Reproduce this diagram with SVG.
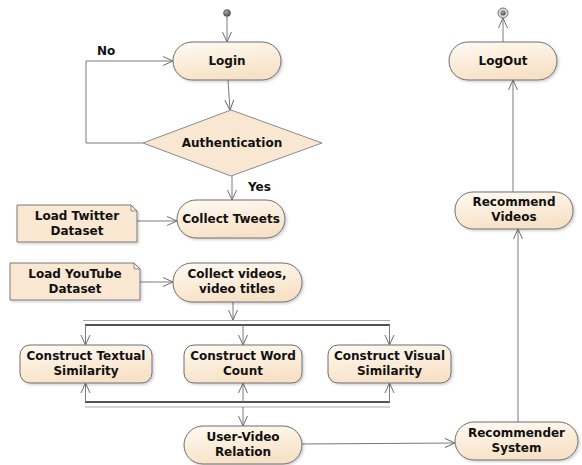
<svg xmlns="http://www.w3.org/2000/svg" width="582" height="465" viewBox="0 0 582 465">
<defs>
<linearGradient id="g" x1="0" y1="0" x2="0.3" y2="1">
<stop offset="0" stop-color="#fffaf3"/>
<stop offset="1" stop-color="#f8e2c7"/>
</linearGradient>
<radialGradient id="sg" cx="0.4" cy="0.35" r="0.7">
<stop offset="0" stop-color="#aaaaaa"/>
<stop offset="1" stop-color="#444444"/>
</radialGradient>
<filter id="sh" x="-10%" y="-10%" width="125%" height="135%">
<feDropShadow dx="1.5" dy="1.5" stdDeviation="1" flood-color="#000" flood-opacity="0.18"/>
</filter>
<marker id="a" markerUnits="userSpaceOnUse" markerWidth="12" markerHeight="12" viewBox="0 0 12 12" refX="11" refY="6" orient="auto">
<path d="M1,1.5 L11,6 L1,10.5" fill="none" stroke="#707070" stroke-width="1"/>
</marker>
</defs>
<style>
.act{fill:url(#g);stroke:#6e6e6e;stroke-width:1;filter:url(#sh)}
.note{fill:#fbe8d3;stroke:#7a7a7a;stroke-width:1;filter:url(#sh)}
.dec{fill:#fae7d2;stroke:#8a8a8a;stroke-width:1}
.t{font-family:"DejaVu Sans","Liberation Sans",sans-serif;font-weight:bold;font-size:12px;fill:#111;text-anchor:middle}
.lbl{font-family:"DejaVu Sans","Liberation Sans",sans-serif;font-weight:bold;font-size:12px;fill:#111}
.c{fill:none;stroke:#7a7a7a;stroke-width:1}
.ca{fill:none;stroke:#7a7a7a;stroke-width:1;marker-end:url(#a)}
.bar{fill:none;stroke:#1a1a1a;stroke-width:1.3}
.bar2{fill:none;stroke:#a8a8a8;stroke-width:1.2}
</style>

<g id="connectors">
<line class="ca" x1="227" y1="17" x2="227" y2="42"/>
<line class="ca" x1="228" y1="80" x2="230" y2="110"/>
<polyline class="ca" points="143,143 86,143 86,61 173,61"/>
<line class="ca" x1="232" y1="176" x2="232" y2="200"/>
<line class="ca" x1="137" y1="221" x2="177" y2="221"/>
<line class="ca" x1="140" y1="282" x2="173" y2="282"/>
<line class="ca" x1="233" y1="302" x2="233" y2="320"/>
<line class="bar2" x1="83" y1="320.5" x2="390" y2="320.5"/>
<line class="bar" x1="85" y1="325" x2="390" y2="325"/>
<line class="ca" x1="85.5" y1="325" x2="85.5" y2="345"/>
<line class="ca" x1="243" y1="325" x2="243" y2="345"/>
<line class="ca" x1="389.5" y1="325" x2="389.5" y2="345"/>
<line class="bar" x1="85" y1="402" x2="390" y2="402"/>
<line class="bar2" x1="85" y1="407" x2="390" y2="407"/>
<line class="ca" x1="85.5" y1="402" x2="85.5" y2="383"/>
<line class="ca" x1="243" y1="402" x2="243" y2="383"/>
<line class="ca" x1="389.5" y1="402" x2="389.5" y2="383"/>
<line class="ca" x1="243" y1="407" x2="243" y2="426"/>
<line class="ca" x1="302" y1="444" x2="455" y2="443"/>
<line class="ca" x1="518" y1="422" x2="518" y2="229"/>
<line class="ca" x1="513" y1="192" x2="513" y2="80"/>
<line class="ca" x1="503" y1="42" x2="503" y2="18"/>
<text class="lbl" x="97" y="55">No</text>
<text class="lbl" x="248" y="191">Yes</text>
</g>

<g id="start">
<circle cx="227" cy="13" r="3.5" fill="url(#sg)" stroke="#555" stroke-width="0.6"/>
</g>

<g id="login">
<rect class="act" x="173" y="42" width="108" height="38" rx="19"/>
<text class="t" x="227" y="65">Login</text>
</g>

<g id="authentication">
<polygon class="dec" points="231,110 322,143 231,176 143,143"/>
<text class="t" x="232" y="147">Authentication</text>
</g>

<g id="collect-tweets">
<rect class="act" x="177" y="200" width="108" height="38" rx="19"/>
<text class="t" x="231" y="223">Collect Tweets</text>
</g>

<g id="load-twitter">
<path class="note" d="M17,205 H131 L137,211 V242 H17 Z"/>
<path d="M131,205 V211 H137" fill="none" stroke="#7a7a7a" stroke-width="0.8"/>
<text class="t" x="77" y="220">Load Twitter</text>
<text class="t" x="77" y="235">Dataset</text>
</g>

<g id="load-youtube">
<path class="note" d="M10,263 H134 L140,269 V300 H10 Z"/>
<path d="M134,263 V269 H140" fill="none" stroke="#7a7a7a" stroke-width="0.8"/>
<text class="t" x="75" y="278">Load YouTube</text>
<text class="t" x="75" y="293">Dataset</text>
</g>

<g id="collect-videos">
<rect class="act" x="173" y="263" width="129" height="39" rx="19"/>
<text class="t" x="237" y="278">Collect videos,</text>
<text class="t" x="237" y="293">video titles</text>
</g>

<g id="textual">
<rect class="act" x="20" y="345" width="132" height="38" rx="10"/>
<text class="t" x="86" y="360">Construct Textual</text>
<text class="t" x="86" y="375">Similarity</text>
</g>

<g id="wordcount">
<rect class="act" x="184" y="345" width="118" height="38" rx="10"/>
<text class="t" x="243" y="360">Construct Word</text>
<text class="t" x="243" y="375">Count</text>
</g>

<g id="visual">
<rect class="act" x="328" y="345" width="123" height="38" rx="10"/>
<text class="t" x="389.5" y="360">Construct Visual</text>
<text class="t" x="389.5" y="375">Similarity</text>
</g>

<g id="user-video">
<rect class="act" x="184" y="426" width="118" height="38" rx="19"/>
<text class="t" x="243" y="441">User-Video</text>
<text class="t" x="243" y="456">Relation</text>
</g>

<g id="recommender">
<rect class="act" x="455" y="422" width="123" height="38" rx="19"/>
<text class="t" x="516.5" y="437">Recommender</text>
<text class="t" x="516.5" y="452">System</text>
</g>

<g id="recommend-videos">
<rect class="act" x="455" y="192" width="118" height="37" rx="18"/>
<text class="t" x="514" y="206">Recommend</text>
<text class="t" x="514" y="221">Videos</text>
</g>

<g id="logout">
<rect class="act" x="449" y="42" width="108" height="38" rx="19"/>
<text class="t" x="503" y="65">LogOut</text>
</g>

<g id="end">
<circle cx="503" cy="13" r="5" fill="#d8d8d8" stroke="#777" stroke-width="1"/>
<circle cx="503" cy="13" r="2.5" fill="url(#sg)"/>
</g>
</svg>
